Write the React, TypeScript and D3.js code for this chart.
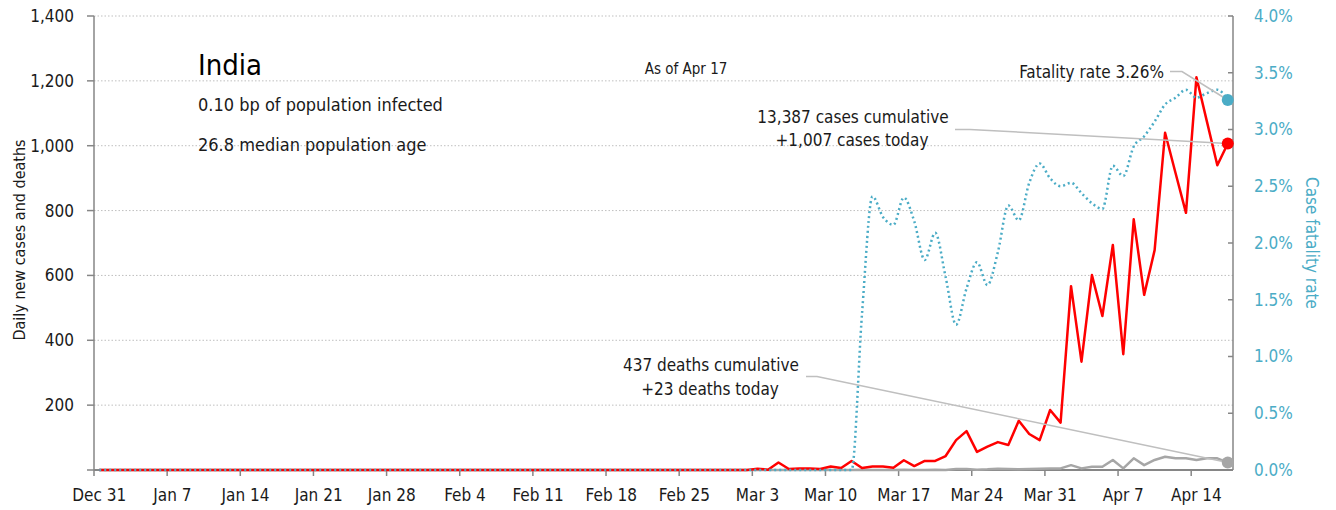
import React from "react";
import * as d3 from "d3";

// ---------- DATA ----------
const startDate = Date.UTC(2019, 11, 31); // Dec 31
const endDate = Date.UTC(2020, 3, 18); // axis end (Apr 18 boundary)

// Daily new cases, Dec 31 .. Apr 17
const casesDec = [0];
const casesJan = [0,0,0,0,0,0,0,0,0,0,0,0,0,0,0,0,0,0,0,0,0,0,0,0,0,0,0,0,0,0,0];
const casesFeb = [0,0,0,0,0,0,0,0,0,0,0,0,0,0,0,0,0,0,0,0,0,0,0,0,0,0,0,0,0];
const casesMar = [0,0,4,1,23,3,5,5,3,11,6,28,6,11,11,7,30,12,28,28,43,92,120,56,72,86,77,152,111,92,185];
const casesApr = [146,567,334,601,475,694,357,773,540,678,1040,916,793,1211,1075,940,1007];

// Daily new deaths
const deathsDec = [0];
const deathsJan = [0,0,0,0,0,0,0,0,0,0,0,0,0,0,0,0,0,0,0,0,0,0,0,0,0,0,0,0,0,0,0];
const deathsFeb = [0,0,0,0,0,0,0,0,0,0,0,0,0,0,0,0,0,0,0,0,0,0,0,0,0,0,0,0,0];
const deathsMar = [0,0,0,0,0,0,0,0,0,0,0,0,1,0,0,0,1,0,0,1,0,3,3,1,2,4,3,2,3,4,5];
const deathsApr = [5,15,5,10,10,31,5,36,15,31,41,36,36,31,36,36,23];

// Case fatality rate (%)
const cfrDec = [0];
const cfrJan = [0,0,0,0,0,0,0,0,0,0,0,0,0,0,0,0,0,0,0,0,0,0,0,0,0,0,0,0,0,0,0];
const cfrFeb = [0,0,0,0,0,0,0,0,0,0,0,0,0,0,0,0,0,0,0,0,0,0,0,0,0,0,0,0,0];
const cfrMar = [0,0,0,0,0,0,0,0,0,0,0,0,1.38,2.41,2.23,2.16,2.40,2.19,1.85,2.09,1.70,1.28,1.60,1.83,1.63,1.92,2.33,2.20,2.53,2.70,2.57];
const cfrApr = [2.50,2.53,2.44,2.35,2.30,2.68,2.59,2.85,2.94,3.07,3.22,3.28,3.35,3.28,3.32,3.35,3.26];

const xTickLabels = ["Dec 31","Jan 7","Jan 14","Jan 21","Jan 28","Feb 4","Feb 11","Feb 18","Feb 25","Mar 3","Mar 10","Mar 17","Mar 24","Mar 31","Apr 7","Apr 14"];
const yTicks = [200, 400, 600, 800, 1000, 1200, 1400];
const rateTicks = [0, 0.5, 1, 1.5, 2, 2.5, 3, 3.5, 4];

const title = "India";
const subtitle1 = "0.10 bp of population infected";
const subtitle2 = "26.8 median population age";
const asOf = "As of Apr 17";
const casesNote = ["13,387  cases cumulative", "+1,007  cases today"];
const deathsNote = ["437 deaths cumulative", "+23 deaths today"];
const rateNote = "Fatality rate 3.26%";

// ---------- CHART ----------
const W = 1336, H = 510;
const M = { left: 94, right: 1233, top: 16, bottom: 470 };
const DAY = 86400000;
const FONT = "'DejaVu Sans Condensed', 'DejaVu Sans', sans-serif";
const BLUE = "#4BACC6";
const RED = "#FF0000";
const GREY = "#A6A6A6";
const AXIS = "#868686";
const LEAD = "#BFBFBF";

export default function App() {
  const cases = [...casesDec, ...casesJan, ...casesFeb, ...casesMar, ...casesApr];
  const deaths = [...deathsDec, ...deathsJan, ...deathsFeb, ...deathsMar, ...deathsApr];
  const cfr = [...cfrDec, ...cfrJan, ...cfrFeb, ...cfrMar, ...cfrApr];
  const dates = cases.map((_, i) => new Date(startDate + i * DAY + DAY / 2));

  const x = d3.scaleUtc().domain([new Date(startDate), new Date(endDate)]).range([M.left, M.right]);
  const y = d3.scaleLinear().domain([0, 1400]).range([M.bottom, M.top]);
  const yr = d3.scaleLinear().domain([0, 4]).range([M.bottom, M.top]);

  const tickDates = d3.utcDay.range(new Date(startDate), new Date(endDate), 7);

  const line = d3.line<number>().x((_, i) => x(dates[i])).y((v) => y(v));
  const rateLine = d3
    .line<number>()
    .x((_, i) => x(dates[i]))
    .y((v) => yr(v))
    .curve(d3.curveMonotoneX);

  const last = cases.length - 1;
  const lx = x(dates[last]);
  const caseDotY = y(cases[last]);
  const deathDotY = y(deaths[last]);
  const rateDotY = yr(cfr[last]);

  return (
    <div style={{ position: "absolute", left: 0, top: 0, background: "#fff" }}>
      <svg width={W} height={H} style={{ display: "block", fontFamily: FONT }}>
        <rect width={W} height={H} fill="#fff" />
        {/* gridlines */}
        {yTicks.map((t) => (
          <line key={"g" + t} x1={M.left} x2={M.right} y1={y(t)} y2={y(t)} stroke="#BFBFBF" strokeWidth={1} strokeDasharray="1.5 2" />
        ))}
        {/* left axis */}
        <line x1={M.left} x2={M.left} y1={M.top} y2={M.bottom} stroke={AXIS} strokeWidth={1.5} />
        {[0, ...yTicks].map((t) => (
          <g key={"l" + t}>
            <line x1={M.left - 7} x2={M.left} y1={y(t)} y2={y(t)} stroke={AXIS} strokeWidth={1.5} />
            {t > 0 && (
              <text x={74} y={y(t)} dy="0.35em" textAnchor="end" fontSize={17} fill="#1a1a1a">
                {d3.format(",")(t)}
              </text>
            )}
          </g>
        ))}
        {/* right axis */}
        <line x1={M.right} x2={M.right} y1={M.top} y2={M.bottom} stroke={AXIS} strokeWidth={1.5} />
        {rateTicks.map((t) => (
          <g key={"r" + t}>
            <line x1={M.right - 5} x2={M.right} y1={yr(t)} y2={yr(t)} stroke={AXIS} strokeWidth={1.5} />
            <text x={1254} y={yr(t)} dy="0.35em" textAnchor="start" fontSize={17} fill={BLUE}>
              {t.toFixed(1) + "%"}
            </text>
          </g>
        ))}
        {/* bottom axis */}
        <line x1={M.left} x2={M.right} y1={M.bottom} y2={M.bottom} stroke={AXIS} strokeWidth={2} />
        {tickDates.map((d, i) => (
          <g key={"x" + i}>
            <line x1={x(d)} x2={x(d)} y1={M.bottom} y2={M.bottom + 6} stroke={AXIS} strokeWidth={1.5} />
            <text x={x(new Date(+d + DAY / 2))} y={495} dy="0.35em" textAnchor="middle" fontSize={17} fill="#1a1a1a">
              {xTickLabels[i]}
            </text>
          </g>
        ))}
        {/* axis titles */}
        <text transform={`translate(19,240) rotate(-90)`} textAnchor="middle" dy="0.35em" fontSize={16} fill="#1a1a1a">
          Daily new cases and deaths
        </text>
        <text transform={`translate(1312,243) rotate(90)`} textAnchor="middle" dy="0.35em" fontSize={17} fill={BLUE}>
          Case fatality rate
        </text>

        {/* series */}
        <path d={line(deaths) || ""} fill="none" stroke={GREY} strokeWidth={2.5} strokeLinejoin="round" />
        <path d={line(cases) || ""} fill="none" stroke={RED} strokeWidth={2.5} strokeLinejoin="round" />
        <path d={rateLine(cfr) || ""} fill="none" stroke={BLUE} strokeWidth={2.5} strokeDasharray="2 3" />

        {/* leader lines */}
        <polyline points={`1170,71.5 1182,71.5 ${lx},${rateDotY}`} fill="none" stroke={LEAD} strokeWidth={1.5} />
        <polyline points={`955,129.5 970,129.5 ${lx},${caseDotY}`} fill="none" stroke={LEAD} strokeWidth={1.5} />
        <polyline points={`806,376.5 817,376.5 ${lx},${deathDotY}`} fill="none" stroke={LEAD} strokeWidth={1.5} />

        {/* end dots */}
        <circle cx={lx} cy={rateDotY} r={6} fill={BLUE} />
        <circle cx={lx} cy={caseDotY} r={6} fill={RED} />
        <circle cx={lx} cy={deathDotY} r={6} fill={GREY} />

        {/* annotations */}
        <text x={198} y={75} fontSize={29} fill="#000">{title}</text>
        <text x={198} y={105} dy="0.35em" fontSize={18} fill="#1a1a1a">{subtitle1}</text>
        <text x={198} y={145} dy="0.35em" fontSize={18} fill="#1a1a1a">{subtitle2}</text>
        <text x={686} y={69} dy="0.35em" textAnchor="middle" fontSize={15} fill="#1a1a1a">{asOf}</text>
        <text x={1164} y={72} dy="0.35em" textAnchor="end" fontSize={17} fill="#1a1a1a">{rateNote}</text>
        <text x={853} y={117} dy="0.35em" textAnchor="middle" fontSize={17} fill="#1a1a1a">{casesNote[0]}</text>
        <text x={852} y={140} dy="0.35em" textAnchor="middle" fontSize={17} fill="#1a1a1a">{casesNote[1]}</text>
        <text x={711} y={365} dy="0.35em" textAnchor="middle" fontSize={17} fill="#1a1a1a">{deathsNote[0]}</text>
        <text x={710} y={389} dy="0.35em" textAnchor="middle" fontSize={17} fill="#1a1a1a">{deathsNote[1]}</text>
      </svg>
    </div>
  );
}
